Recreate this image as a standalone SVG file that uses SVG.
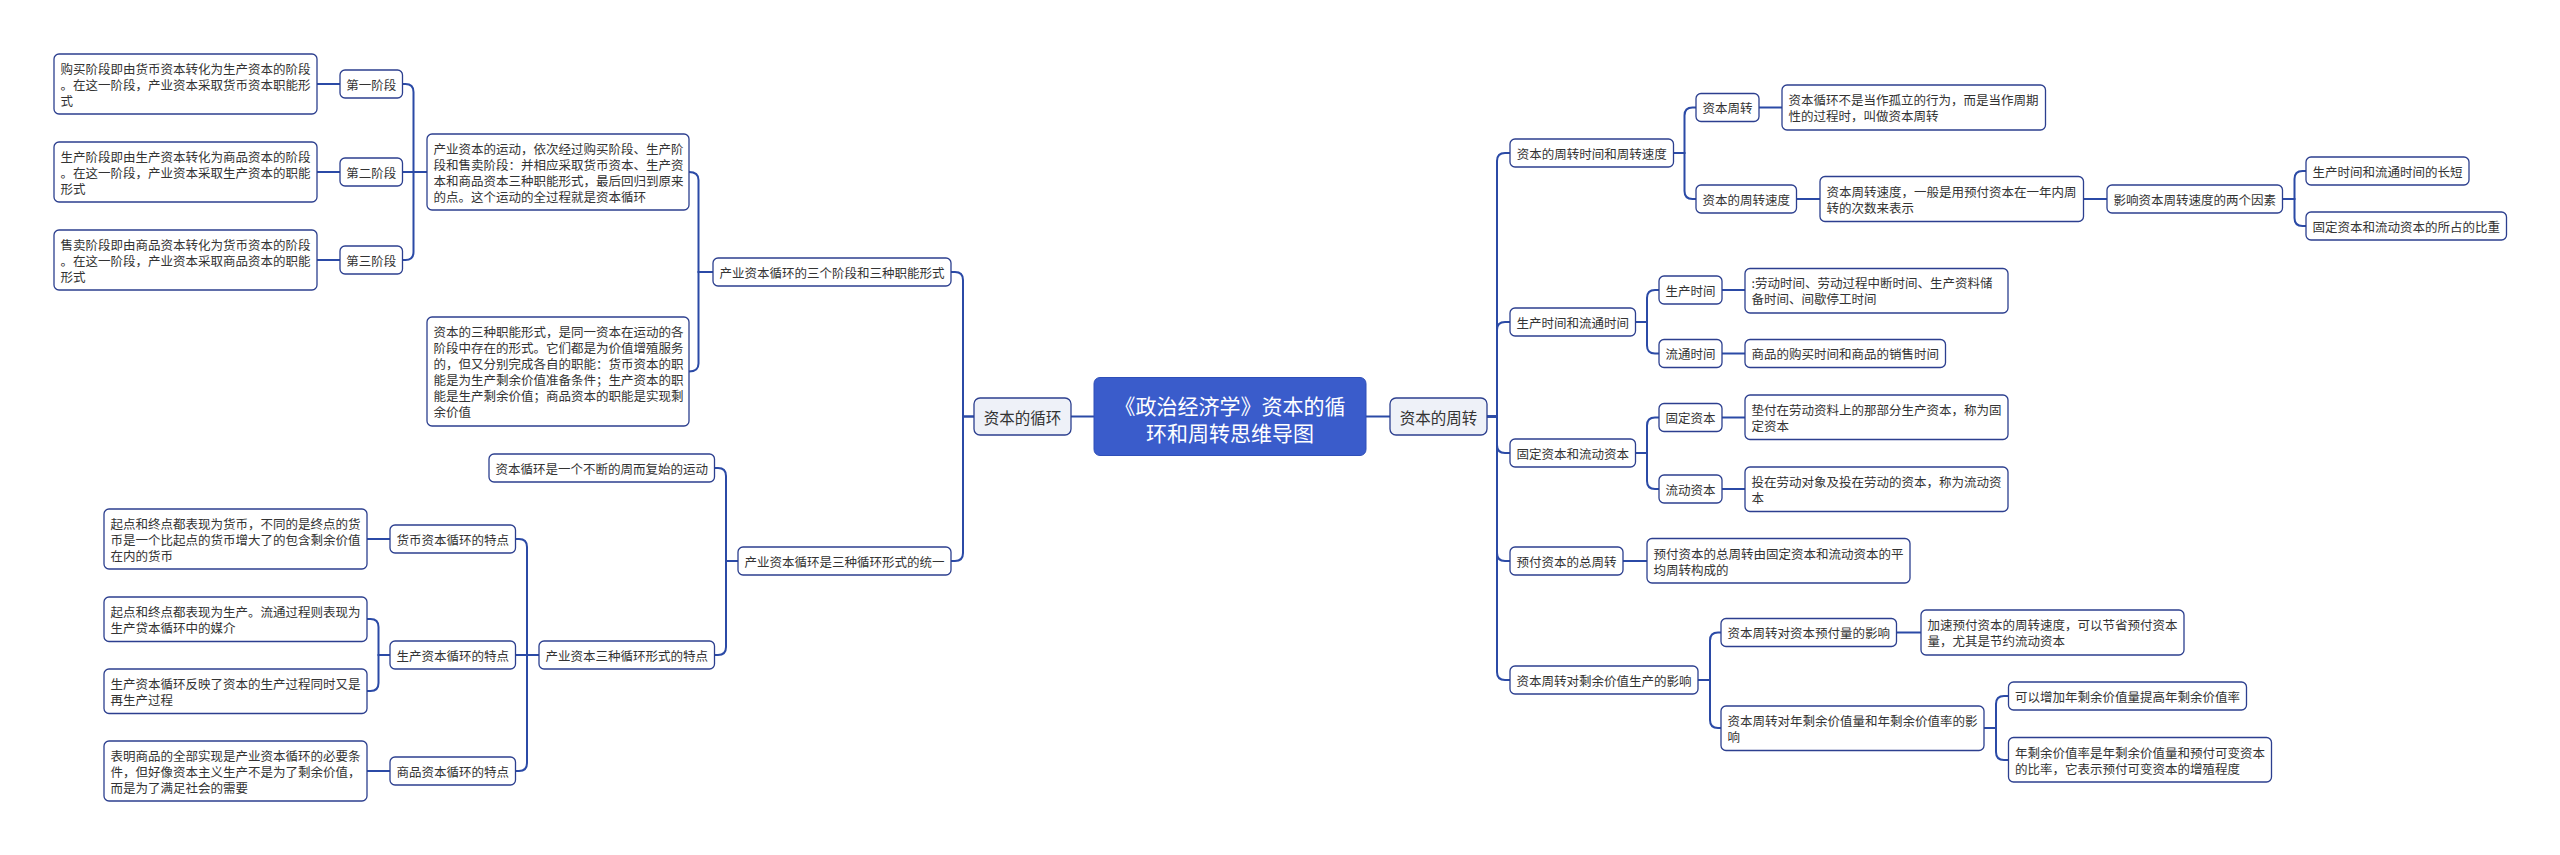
<svg xmlns="http://www.w3.org/2000/svg" width="2560" height="855" viewBox="0 0 2560 855">
<style>
text{font-family:"Noto Sans CJK SC","Noto Sans",sans-serif;fill:#333;font-size:12.5px;dominant-baseline:central}
.b{fill:#fff;stroke:#2c3f8f;stroke-width:1.3}
.l1{fill:#eef1f8;stroke:#2c3f8f;stroke-width:1.3}
.c{fill:#3a5ccb;stroke:#2f4fb8;stroke-width:1}
.m{text-anchor:middle}
.t1{font-size:15.5px;text-anchor:middle}
.tc{font-size:21px;text-anchor:middle;fill:#fff}
#connectors path{fill:none;stroke:#2b4aa6;stroke-width:2}
</style>
<rect width="2560" height="855" fill="#fff"/>
<g id="connectors">
<path d="M1094,416.5 H1071"/>
<path d="M1366,416.5 H1390"/>
<path d="M974,416.5 H963 V280 Q963,272 955,272 H951"/>
<path d="M974,416.5 H963 V553 Q963,561 955,561 H951"/>
<path d="M713,272 H698.5 V180 Q698.5,172 689,172"/>
<path d="M713,272 H698.5 V363.5 Q698.5,371.5 689,371.5"/>
<path d="M427,172 H413.5 V92 Q413.5,84 405.5,84 H402.5"/>
<path d="M427,172 H402.5"/>
<path d="M427,172 H413.5 V252 Q413.5,260 405.5,260 H402.5"/>
<path d="M340,84 H317"/>
<path d="M340,172 H317"/>
<path d="M340,260 H317"/>
<path d="M738,561 H726 V476 Q726,468 718,468 H714.5"/>
<path d="M738,561 H726 V647 Q726,655 718,655 H714.5"/>
<path d="M539,655 H527 V547 Q527,539 519,539 H515.5"/>
<path d="M539,655 H515.5"/>
<path d="M539,655 H527 V763 Q527,771 519,771 H515.5"/>
<path d="M390,539 H367"/>
<path d="M390,655 H378.5 V627 Q378.5,619 370.5,619 H367"/>
<path d="M390,655 H378.5 V683 Q378.5,691 370.5,691 H367"/>
<path d="M390,771 H367"/>
<path d="M1487,416.5 H1497 V161 Q1497,153 1505,153 H1510"/>
<path d="M1487,416.5 H1497 V330 Q1497,322 1505,322 H1510"/>
<path d="M1487,416.5 H1497 V445 Q1497,453 1505,453 H1510"/>
<path d="M1487,416.5 H1497 V553 Q1497,561 1505,561 H1510"/>
<path d="M1487,416.5 H1497 V672 Q1497,680 1505,680 H1510"/>
<path d="M1673.5,153 H1684.5 V115.5 Q1684.5,107.5 1692.5,107.5 H1696"/>
<path d="M1673.5,153 H1684.5 V191 Q1684.5,199 1692.5,199 H1696"/>
<path d="M1759,107.5 H1782"/>
<path d="M1796.5,199 H1820"/>
<path d="M2083.5,199 H2107"/>
<path d="M2282.5,199 H2294.5 V179 Q2294.5,171 2302.5,171 H2306"/>
<path d="M2282.5,199 H2294.5 V218 Q2294.5,226 2302.5,226 H2306"/>
<path d="M1635.5,322 H1647 V298 Q1647,290 1655,290 H1659"/>
<path d="M1635.5,322 H1647 V345.5 Q1647,353.5 1655,353.5 H1659"/>
<path d="M1722,290 H1745"/>
<path d="M1722,353.5 H1745"/>
<path d="M1635.5,453 H1647 V425.5 Q1647,417.5 1655,417.5 H1659"/>
<path d="M1635.5,453 H1647 V481 Q1647,489 1655,489 H1659"/>
<path d="M1722,417.5 H1745"/>
<path d="M1722,489 H1745"/>
<path d="M1623,561 H1647"/>
<path d="M1698,680 H1710 V640.5 Q1710,632.5 1718,632.5 H1721"/>
<path d="M1698,680 H1710 V720 Q1710,728 1718,728 H1721"/>
<path d="M1896.5,632.5 H1921"/>
<path d="M1984,728 H1996 V704 Q1996,696 2004,696 H2008.5"/>
<path d="M1984,728 H1996 V752 Q1996,760 2004,760 H2008.5"/>
</g>

<g id="root"><rect class="c" x="1094" y="377.5" width="272" height="78" rx="6"/><text class="tc" x="1230" y="405">《政治经济学》资本的循</text><text class="tc" x="1230" y="431.5">环和周转思维导图</text></g>

<g id="n-xunhuan"><rect class="l1" x="974" y="398" width="97" height="37" rx="6"/><text class="t1" x="1022.5" y="416.5">资本的循环</text></g>
<g id="n-zhouzhuan"><rect class="l1" x="1390" y="398" width="97" height="37" rx="6"/><text class="t1" x="1438.5" y="416.5">资本的周转</text></g>

<g id="n-sange"><rect class="b" x="713" y="258" width="238" height="28" rx="5"/><text class="m" x="832" y="272">产业资本循环的三个阶段和三种职能形式</text></g>
<g id="n-t1"><rect class="b" x="427" y="134" width="262" height="76" rx="5"/><text x="433.5" y="148">产业资本的运动，依次经过购买阶段、生产阶</text><text x="433.5" y="164">段和售卖阶段：并相应采取货币资本、生产资</text><text x="433.5" y="180">本和商品资本三种职能形式，最后回归到原来</text><text x="433.5" y="196">的点。这个运动的全过程就是资本循环</text></g>
<g id="n-t2"><rect class="b" x="427" y="317" width="262" height="109" rx="5"/><text x="433.5" y="331.5">资本的三种职能形式，是同一资本在运动的各</text><text x="433.5" y="347.5">阶段中存在的形式。它们都是为价值增殖服务</text><text x="433.5" y="363.5">的，但又分别完成各自的职能：货币资本的职</text><text x="433.5" y="379.5">能是为生产剩余价值准备条件；生产资本的职</text><text x="433.5" y="395.5">能是生产剩余价值；商品资本的职能是实现剩</text><text x="433.5" y="411.5">余价值</text></g>
<g id="n-s1"><rect class="b" x="340" y="70" width="62.5" height="28" rx="5"/><text class="m" x="371.25" y="84">第一阶段</text></g>
<g id="n-s2"><rect class="b" x="340" y="158" width="62.5" height="28" rx="5"/><text class="m" x="371.25" y="172">第二阶段</text></g>
<g id="n-s3"><rect class="b" x="340" y="246" width="62.5" height="28" rx="5"/><text class="m" x="371.25" y="260">第三阶段</text></g>
<g id="n-s1l"><rect class="b" x="54" y="54" width="263" height="60" rx="5"/><text x="60.5" y="68.5">购买阶段即由货币资本转化为生产资本的阶段</text><text x="60.5" y="84.5">。在这一阶段，产业资本采取货币资本职能形</text><text x="60.5" y="100.5">式</text></g>
<g id="n-s2l"><rect class="b" x="54" y="142" width="263" height="60" rx="5"/><text x="60.5" y="156.5">生产阶段即由生产资本转化为商品资本的阶段</text><text x="60.5" y="172.5">。在这一阶段，产业资本采取生产资本的职能</text><text x="60.5" y="188.5">形式</text></g>
<g id="n-s3l"><rect class="b" x="54" y="230" width="263" height="60" rx="5"/><text x="60.5" y="244.5">售卖阶段即由商品资本转化为货币资本的阶段</text><text x="60.5" y="260.5">。在这一阶段，产业资本采取商品资本的职能</text><text x="60.5" y="276.5">形式</text></g>

<g id="n-tongyi"><rect class="b" x="738" y="547" width="213" height="28" rx="5"/><text class="m" x="844.5" y="561">产业资本循环是三种循环形式的统一</text></g>
<g id="n-yundong"><rect class="b" x="489" y="454" width="225.5" height="28" rx="5"/><text class="m" x="601.75" y="468">资本循环是一个不断的周而复始的运动</text></g>
<g id="n-tedian"><rect class="b" x="539" y="641" width="175.5" height="28" rx="5"/><text class="m" x="626.75" y="655">产业资本三种循环形式的特点</text></g>
<g id="n-huobi"><rect class="b" x="390" y="525" width="125.5" height="28" rx="5"/><text class="m" x="452.75" y="539">货币资本循环的特点</text></g>
<g id="n-shengchan"><rect class="b" x="390" y="641" width="125.5" height="28" rx="5"/><text class="m" x="452.75" y="655">生产资本循环的特点</text></g>
<g id="n-shangpin"><rect class="b" x="390" y="757" width="125.5" height="28" rx="5"/><text class="m" x="452.75" y="771">商品资本循环的特点</text></g>
<g id="n-huobil"><rect class="b" x="104" y="509" width="263" height="60" rx="5"/><text x="110.5" y="523.5">起点和终点都表现为货币，不同的是终点的货</text><text x="110.5" y="539.5">币是一个比起点的货币增大了的包含剩余价值</text><text x="110.5" y="555.5">在内的货币</text></g>
<g id="n-shengchanl1"><rect class="b" x="104" y="597" width="263" height="44.5" rx="5"/><text x="110.5" y="611.5">起点和终点都表现为生产。流通过程则表现为</text><text x="110.5" y="627.5">生产贷本循环中的媒介</text></g>
<g id="n-shengchanl2"><rect class="b" x="104" y="669" width="263" height="44.5" rx="5"/><text x="110.5" y="683.5">生产资本循环反映了资本的生产过程同时又是</text><text x="110.5" y="699.5">再生产过程</text></g>
<g id="n-shangpinl"><rect class="b" x="104" y="741" width="263" height="60" rx="5"/><text x="110.5" y="755.5">表明商品的全部实现是产业资本循环的必要条</text><text x="110.5" y="771.5">件，但好像资本主义生产不是为了剩余价值，</text><text x="110.5" y="787.5">而是为了满足社会的需要</text></g>

<g id="n-r1"><rect class="b" x="1510" y="139" width="163.5" height="28" rx="5"/><text class="m" x="1591.75" y="153">资本的周转时间和周转速度</text></g>
<g id="n-r1a"><rect class="b" x="1696" y="93.5" width="63" height="28" rx="5"/><text class="m" x="1727.5" y="107.5">资本周转</text></g>
<g id="n-r1al"><rect class="b" x="1782" y="85" width="263.5" height="45" rx="5"/><text x="1788.5" y="99.5">资本循环不是当作孤立的行为，而是当作周期</text><text x="1788.5" y="115.5">性的过程时，叫做资本周转</text></g>
<g id="n-r1b"><rect class="b" x="1696" y="185" width="100.5" height="28" rx="5"/><text class="m" x="1746.25" y="199">资本的周转速度</text></g>
<g id="n-r1bl"><rect class="b" x="1820" y="176.5" width="263.5" height="45" rx="5"/><text x="1826.5" y="191">资本周转速度，一般是用预付资本在一年内周</text><text x="1826.5" y="207">转的次数来表示</text></g>
<g id="n-yinsu"><rect class="b" x="2107" y="185" width="175.5" height="28" rx="5"/><text class="m" x="2194.75" y="199">影响资本周转速度的两个因素</text></g>
<g id="n-yinsu1"><rect class="b" x="2306" y="157" width="163" height="28" rx="5"/><text class="m" x="2387.5" y="171">生产时间和流通时间的长短</text></g>
<g id="n-yinsu2"><rect class="b" x="2306" y="212" width="200.5" height="28" rx="5"/><text class="m" x="2406.25" y="226">固定资本和流动资本的所占的比重</text></g>

<g id="n-r2"><rect class="b" x="1510" y="308" width="125.5" height="28" rx="5"/><text class="m" x="1572.75" y="322">生产时间和流通时间</text></g>
<g id="n-r2a"><rect class="b" x="1659" y="276" width="63" height="28" rx="5"/><text class="m" x="1690.5" y="290">生产时间</text></g>
<g id="n-r2al"><rect class="b" x="1745" y="268.5" width="263" height="44.5" rx="5"/><text x="1751.5" y="282.5">:劳动时间、劳动过程中断时间、生产资料储</text><text x="1751.5" y="298.5">备时间、间歇停工时间</text></g>
<g id="n-r2b"><rect class="b" x="1659" y="339.5" width="63" height="28" rx="5"/><text class="m" x="1690.5" y="353.5">流通时间</text></g>
<g id="n-r2bl"><rect class="b" x="1745" y="339.5" width="200.5" height="28" rx="5"/><text class="m" x="1845.25" y="353.5">商品的购买时间和商品的销售时间</text></g>

<g id="n-r3"><rect class="b" x="1510" y="439" width="125.5" height="28" rx="5"/><text class="m" x="1572.75" y="453">固定资本和流动资本</text></g>
<g id="n-r3a"><rect class="b" x="1659" y="403.5" width="63" height="28" rx="5"/><text class="m" x="1690.5" y="417.5">固定资本</text></g>
<g id="n-r3al"><rect class="b" x="1745" y="395" width="263" height="44.5" rx="5"/><text x="1751.5" y="409.5">垫付在劳动资料上的那部分生产资本，称为固</text><text x="1751.5" y="425.5">定资本</text></g>
<g id="n-r3b"><rect class="b" x="1659" y="475" width="63" height="28" rx="5"/><text class="m" x="1690.5" y="489">流动资本</text></g>
<g id="n-r3bl"><rect class="b" x="1745" y="467" width="263" height="44.5" rx="5"/><text x="1751.5" y="481">投在劳动对象及投在劳动的资本，称为流动资</text><text x="1751.5" y="497">本</text></g>

<g id="n-r4"><rect class="b" x="1510" y="547" width="113" height="28" rx="5"/><text class="m" x="1566.5" y="561">预付资本的总周转</text></g>
<g id="n-r4l"><rect class="b" x="1647" y="538.5" width="263" height="44.5" rx="5"/><text x="1653.5" y="553">预付资本的总周转由固定资本和流动资本的平</text><text x="1653.5" y="569">均周转构成的</text></g>

<g id="n-r5"><rect class="b" x="1510" y="666" width="188" height="28" rx="5"/><text class="m" x="1604" y="680">资本周转对剩余价值生产的影响</text></g>
<g id="n-r5a"><rect class="b" x="1721" y="618.5" width="175.5" height="28" rx="5"/><text class="m" x="1808.75" y="632.5">资本周转对资本预付量的影响</text></g>
<g id="n-r5al"><rect class="b" x="1921" y="610" width="263" height="45" rx="5"/><text x="1927.5" y="624.5">加速预付资本的周转速度，可以节省预付资本</text><text x="1927.5" y="640.5">量，尤其是节约流动资本</text></g>
<g id="n-r5b"><rect class="b" x="1721" y="706" width="263" height="44.5" rx="5"/><text x="1727.5" y="720">资本周转对年剩余价值量和年剩余价值率的影</text><text x="1727.5" y="736">响</text></g>
<g id="n-r5b1"><rect class="b" x="2008.5" y="682" width="238" height="28" rx="5"/><text class="m" x="2127.5" y="696">可以增加年剩余价值量提高年剩余价值率</text></g>
<g id="n-r5b2"><rect class="b" x="2008.5" y="737.5" width="263" height="44.5" rx="5"/><text x="2015" y="752">年剩余价值率是年剩余价值量和预付可变资本</text><text x="2015" y="768">的比率，它表示预付可变资本的增殖程度</text></g>
</svg>
